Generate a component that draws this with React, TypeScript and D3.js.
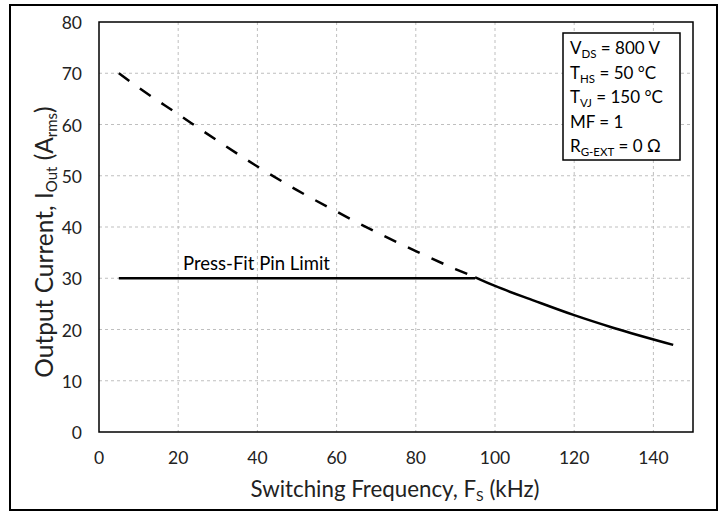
import React from "react";
import * as d3 from "d3";

const xTicks = [0, 20, 40, 60, 80, 100, 120, 140];
const yTicks = [0, 10, 20, 30, 40, 50, 60, 70, 80];
const thermalFreq = [5, 10, 20, 30, 40, 50, 60, 70, 80, 90, 95];
const thermalCurrent = [70, 67.2, 62, 56.8, 51.8, 47.2, 43, 39, 35.3, 31.8, 30.2];
const limitedFreq = [95, 100, 110, 120, 130, 145];
const limitedCurrent = [30.2, 28.5, 25.6, 22.8, 20.3, 17];
const pinLimitFreq = [5, 95];
const pinLimitCurrent = [30, 30];

const W = 727, H = 516;
const m = { left: 99, right: 693, top: 22, bottom: 432 };
const FONT = "Lato, 'Open Sans', sans-serif";

export default function App() {
  const x = d3.scaleLinear().domain([0, 150]).range([m.left, m.right]);
  const y = d3.scaleLinear().domain([0, 80]).range([m.bottom, m.top]);
  const line = d3.line<[number, number]>().x(d => x(d[0])).y(d => y(d[1])).curve(d3.curveMonotoneX);
  const zip = (a: number[], b: number[]) => a.map((v, i) => [v, b[i]] as [number, number]);
  const legend = [
    { main: "V", sub: "DS", rest: " = 800 V" },
    { main: "T", sub: "HS", rest: " = 50 °C" },
    { main: "T", sub: "VJ", rest: " = 150 °C" },
    { main: "MF = 1", sub: "", rest: "" },
    { main: "R", sub: "G-EXT", rest: " = 0 Ω" },
  ];
  return (
    <svg width={W} height={H} style={{ position: "absolute", left: 0, top: 0, background: "#fff" }} fontFamily={FONT}>
      <rect x={10} y={5} width={707} height={505} fill="#fff" stroke="#000" strokeWidth={2} />
      {xTicks.filter(t => t > 0).map(t => (
        <line key={"gx" + t} x1={x(t)} x2={x(t)} y1={m.top} y2={m.bottom} stroke="#bfbfbf" strokeDasharray="3,3" strokeWidth={1} />
      ))}
      {yTicks.filter(t => t > 0 && t < 80).map(t => (
        <line key={"gy" + t} x1={m.left} x2={m.right} y1={y(t)} y2={y(t)} stroke="#bfbfbf" strokeDasharray="3,3" strokeWidth={1} />
      ))}
      <rect x={m.left} y={m.top} width={m.right - m.left} height={m.bottom - m.top} fill="none" stroke="#000" strokeWidth={1.5} />
      {xTicks.map(t => (
        <text key={"xt" + t} x={x(t)} y={464} textAnchor="middle" fontSize={17.5} fill="#222">{t}</text>
      ))}
      {yTicks.map(t => (
        <text key={"yt" + t} x={82} y={y(t) + 7} textAnchor="end" fontSize={17.5} fill="#222">{t}</text>
      ))}
      <path d={line(zip(thermalFreq, thermalCurrent)) || ""} fill="none" stroke="#000" strokeWidth={2.5} strokeDasharray="13,13" />
      <path d={line(zip(limitedFreq, limitedCurrent)) || ""} fill="none" stroke="#000" strokeWidth={2.5} />
      <path d={line(zip(pinLimitFreq, pinLimitCurrent)) || ""} fill="none" stroke="#000" strokeWidth={2.5} />
      <text x={183} y={y(30) - 8} fontSize={18.5} fill="#000">Press-Fit Pin Limit</text>
      <text x={395} y={497} textAnchor="middle" fontSize={22.3} fill="#222">
        Switching Frequency, F<tspan fontSize={14} dy={4}>S</tspan><tspan dy={-4}> (kHz)</tspan>
      </text>
      <text transform={`translate(53,242) rotate(-90)`} textAnchor="middle" fontSize={24.5} fill="#222">
        Output Current, I<tspan fontSize={15} dy={4}>Out</tspan><tspan dy={-4}> (A</tspan><tspan fontSize={15} dy={4}>rms</tspan><tspan dy={-4}>)</tspan>
      </text>
      <rect x={563} y={33} width={117} height={127} fill="#fff" stroke="#000" strokeWidth={1.5} />
      {legend.map((l, i) => (
        <text key={"lg" + i} x={570} y={54 + i * 24.6} fontSize={17} fill="#000">
          {l.main}
          {l.sub && <tspan fontSize={11.5} dy={4}>{l.sub}</tspan>}
          {l.sub && <tspan dy={-4}>{l.rest}</tspan>}
        </text>
      ))}
    </svg>
  );
}
